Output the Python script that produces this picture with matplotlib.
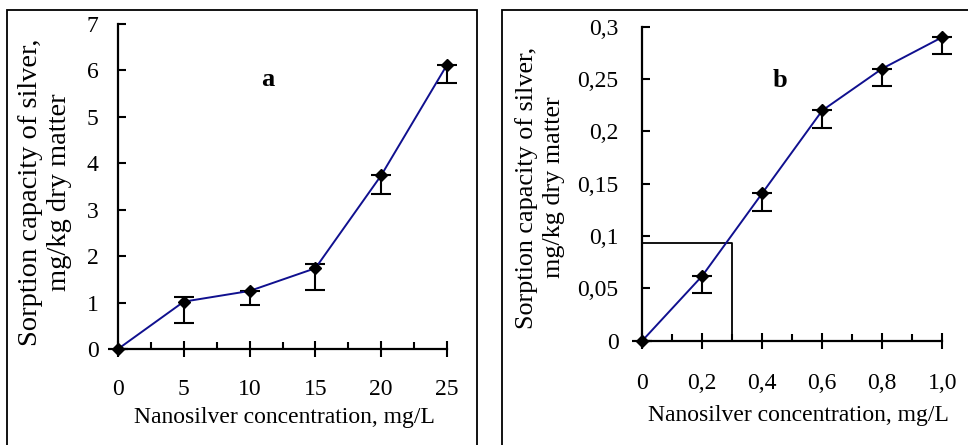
import matplotlib.pyplot as plt
from matplotlib.patches import Rectangle
from matplotlib.ticker import MultipleLocator
import numpy as np

plt.rcParams['font.family'] = ['Liberation Serif', 'DejaVu Serif']

# panel a data
conc_a = [0, 5, 10, 15, 20, 25]
sorp_a = [0, 1.02, 1.25, 1.74, 3.74, 6.12]
err_lo_a = [0, 0.46, 0.30, 0.46, 0.40, 0.40]
err_hi_a = [0, 0.10, 0.0, 0.10, 0.0, 0.0]
xticks_a = [0, 5, 10, 15, 20, 25]
yticks_a = [0, 1, 2, 3, 4, 5, 6, 7]

# panel b data
conc_b = [0, 0.2, 0.4, 0.6, 0.8, 1.0]
sorp_b = [0, 0.062, 0.141, 0.220, 0.260, 0.290]
err_lo_b = [0, 0.016, 0.017, 0.017, 0.017, 0.016]
err_hi_b = [0, 0, 0, 0, 0, 0]
xticks_b = [0, 0.2, 0.4, 0.6, 0.8, 1.0]
xlabels_b = ['0', '0,2', '0,4', '0,6', '0,8', '1,0']
yticks_b = [0, 0.05, 0.1, 0.15, 0.2, 0.25, 0.3]
ylabels_b = ['0', '0,05', '0,1', '0,15', '0,2', '0,25', '0,3']
# guide box in panel b
box_x = 0.3
box_y = 0.093

W, H = 968, 445
fig = plt.figure(figsize=(W / 100, H / 100), dpi=100)

# outer frames around each panel (run off the picture edge like the original)
fig.patches.append(Rectangle((7 / W, -0.1), 470 / W, 1 - 10 / H + 0.1, transform=fig.transFigure,
                             fill=False, edgecolor='black', linewidth=1.3, clip_on=False))
fig.patches.append(Rectangle((502 / W, -0.1), 0.6, 1 - 10 / H + 0.1, transform=fig.transFigure,
                             fill=False, edgecolor='black', linewidth=1.3, clip_on=False))

ax_a = fig.add_axes([118 / W, 1 - 349 / H, 329 / W, 325 / H])
ax_b = fig.add_axes([642.3 / W, 1 - 340.7 / H, 300 / W, 314 / H])


def style_axes(ax, tick_fs, xpad, ypad):
    for s in ['top', 'right']:
        ax.spines[s].set_visible(False)
    for s in ['left', 'bottom']:
        ax.spines[s].set_linewidth(1.6)
    ax.tick_params(axis='x', which='major', direction='inout', length=11, width=1.5,
                   labelsize=tick_fs, pad=xpad)
    ax.tick_params(axis='x', which='minor', direction='in', length=5, width=1.5)
    ax.tick_params(axis='y', which='major', direction='in', length=6, width=1.5,
                   labelsize=tick_fs, pad=ypad)
    ax.patch.set_alpha(0)


# ---- panel a ----
ax_a.errorbar(conc_a, sorp_a, yerr=[err_lo_a, err_hi_a], fmt='none', ecolor='black',
              elinewidth=1.5, capsize=7.5, capthick=1.5, clip_on=False, zorder=2)
ax_a.plot(conc_a, sorp_a, color='#10108f', linewidth=1.4, marker='D', markersize=6.5,
          markerfacecolor='black', markeredgecolor='black', clip_on=False, zorder=3)
ax_a.set_xlim(0, 25)
ax_a.set_ylim(0, 7)
ax_a.set_xticks(xticks_a)
ax_a.set_yticks(yticks_a)
ax_a.xaxis.set_minor_locator(MultipleLocator(2.5))
style_axes(ax_a, 17, 16, 14)
ax_a.set_xlabel('Nanosilver concentration, mg/L', fontsize=17, va='center')
ax_a.xaxis.set_label_coords(0.506, -0.212)
ax_a.set_ylabel('Sorption capacity of silver,\nmg/kg dry matter', fontsize=20.5,
                va='center', linespacing=1.2)
ax_a.yaxis.set_label_coords(-0.222, 0.483)
ax_a.text(0.455, 0.83, 'a', transform=ax_a.transAxes, fontsize=19, fontweight='bold',
          ha='center', va='center')

# ---- panel b ----
ax_b.plot([0, box_x, box_x], [box_y, box_y, 0], color='black', linewidth=1.3, zorder=1)
ax_b.errorbar(conc_b, sorp_b, yerr=[err_lo_b, err_hi_b], fmt='none', ecolor='black',
              elinewidth=1.5, capsize=7.5, capthick=1.5, clip_on=False, zorder=2)
ax_b.plot(conc_b, sorp_b, color='#10108f', linewidth=1.4, marker='D', markersize=6.5,
          markerfacecolor='black', markeredgecolor='black', clip_on=False, zorder=3)
ax_b.set_xlim(0, 1.0)
ax_b.set_ylim(0, 0.3)
ax_b.set_xticks(xticks_b)
ax_b.set_xticklabels(xlabels_b)
ax_b.set_yticks(yticks_b)
ax_b.set_yticklabels(ylabels_b)
ax_b.xaxis.set_minor_locator(MultipleLocator(0.1))
style_axes(ax_b, 17, 18, 17)
ax_b.set_xlabel('Nanosilver concentration, mg/L', fontsize=17, va='center')
ax_b.xaxis.set_label_coords(0.519, -0.237)
ax_b.set_ylabel('Sorption capacity of silver,\nmg/kg dry matter', fontsize=18.8,
                va='center', linespacing=1.3)
ax_b.yaxis.set_label_coords(-0.341, 0.488)
ax_b.text(0.46, 0.83, 'b', transform=ax_b.transAxes, fontsize=19, fontweight='bold',
          ha='center', va='center')

fig.savefig('out.png', dpi=100)
